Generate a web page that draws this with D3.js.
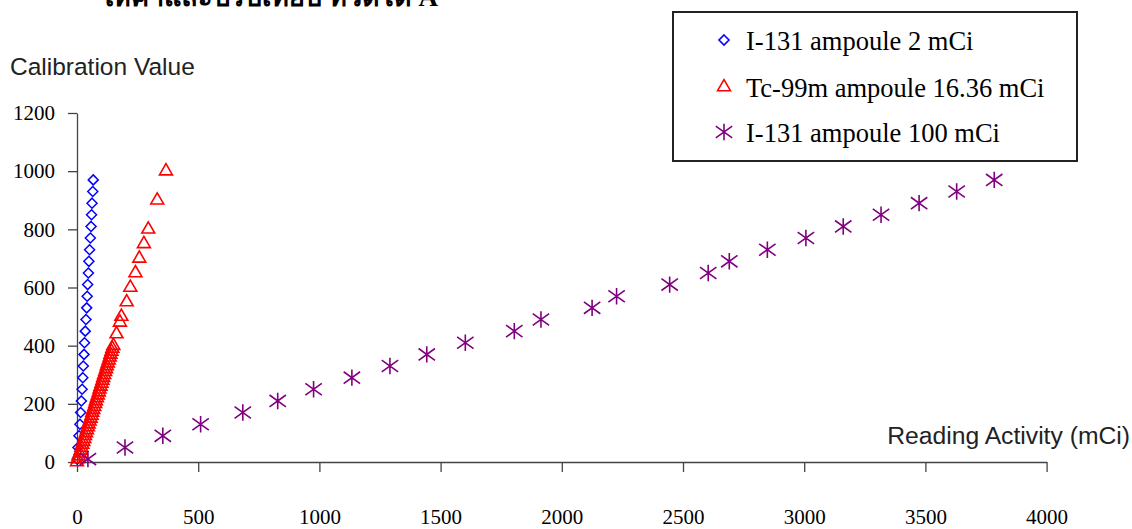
<!DOCTYPE html>
<html>
<head>
<meta charset="utf-8">
<script src="https://cdn.jsdelivr.net/npm/d3@7"></script>
<style>
  html, body { margin: 0; padding: 0; background: #fff; }
  svg { display: block; }
</style>
</head>
<body>
<svg id="chart" width="1132" height="529"></svg>
<script>
// ---------- data ----------
const seriesNames = ["I-131 ampoule 2 mCi", "Tc-99m ampoule 16.36 mCi", "I-131 ampoule 100 mCi"];
const xTicks = [0, 500, 1000, 1500, 2000, 2500, 3000, 3500, 4000];
const yTicks = [0, 200, 400, 600, 800, 1000, 1200];

// I-131 ampoule 2 mCi
const i131smallCal = [10, 50, 90, 130, 170, 210, 250, 290, 330, 370, 410, 450, 490, 530, 570, 610, 650, 690, 730, 770, 810, 850, 890, 930, 970];
const i131smallRead = [1, 4, 8, 12, 15, 18, 21, 24, 26, 29, 31, 34, 37, 40, 42, 44, 47, 49, 52, 55, 58, 60, 62, 65, 67];

// Tc-99m ampoule 16.36 mCi
const tcCal = [0, 10, 20, 30, 40, 50, 60, 70, 80, 90, 100, 110, 120, 130, 140, 150, 160, 170, 180, 190, 200,
  210, 220, 230, 240, 250, 260, 270, 280, 290, 300, 310, 320, 330, 340, 350, 360, 370, 380, 390, 400,
  440, 480, 500, 550, 600, 650, 700, 750, 800, 900, 1000];
const tcRead = [0, 3, 7, 11, 15, 18, 22, 26, 30, 33, 37, 41, 45, 48, 52, 56, 60, 63, 67, 71, 75,
  78, 82, 86, 90, 93, 97, 101, 105, 108, 112, 116, 120, 123, 127, 131, 135, 138, 142, 146, 150,
  163, 177, 183, 205, 220, 241, 257, 276, 294, 331, 367];

// I-131 ampoule 100 mCi
const i131bigCal = [10, 50, 90, 130, 170, 210, 250, 290, 330, 370, 410, 450, 490, 530, 570, 610, 650, 690, 730, 770, 810, 850, 890, 930, 970];
const i131bigRead = [45, 198, 354, 510, 684, 828, 976, 1134, 1291, 1443, 1602, 1804, 1914, 2125, 2226, 2445, 2604, 2691, 2848, 3007, 3161, 3317, 3474, 3629, 3784];

const colors = ["#0000ff", "#ff0000", "#800080"];

// ---------- layout ----------
const svg = d3.select("#chart");
const x = d3.scaleLinear().domain([0, 4000]).range([77, 1046.6]);
const y = d3.scaleLinear().domain([0, 1200]).range([462, 113]);

// custom symbols
const diamondSym = { draw(c, s) { const r = Math.sqrt(s) / 2; c.moveTo(0, -r); c.lineTo(r, 0); c.lineTo(0, r); c.lineTo(-r, 0); c.closePath(); } };
const starSym = { draw(c, s) { const r = Math.sqrt(s) / 2; c.moveTo(0, -r); c.lineTo(0, r); c.moveTo(-r, -r * 0.72); c.lineTo(r, r * 0.72); c.moveTo(-r, r * 0.72); c.lineTo(r, -r * 0.72); } };

const diamondPath = d3.symbol().type(diamondSym).size(100)();
const triPath = d3.symbol().type(d3.symbolTriangle).size(72)();
const starPath = d3.symbol().type(starSym).size(270)();

// title (cut off at top)
svg.append("text")
  .attr("x", 100).attr("y", 6)
  .attr("font-family", "'Liberation Serif', 'Noto Sans', serif")
  .attr("font-weight", "bold")
  .attr("font-size", 27)
  .attr("fill", "#000")
  .text("ให้ค่าและปรับเทียบ ที่วัดได้ A");

// axes
const yAxis = d3.axisLeft(y).tickValues(yTicks).tickFormat(d3.format("d")).tickSize(9).tickSizeOuter(0).tickPadding(13);
const xAxis = d3.axisBottom(x).tickValues(xTicks).tickFormat(d3.format("d")).tickSize(10).tickSizeOuter(0).tickPadding(37);

const gy = svg.append("g").attr("transform", "translate(77,0)").call(yAxis);
const gx = svg.append("g").attr("transform", "translate(0,462)").call(xAxis);
[gx, gy].forEach(g => {
  g.selectAll("path, line").attr("stroke", "#444").attr("stroke-width", 1.3);
  g.selectAll("text")
    .attr("font-family", "'Liberation Serif', 'Times New Roman', serif")
    .attr("font-size", 21)
    .attr("fill", "#000");
});

// axis titles
svg.append("text")
  .attr("x", 10).attr("y", 75)
  .attr("font-family", "'Liberation Sans', Arial, sans-serif")
  .attr("font-size", 24.5)
  .attr("fill", "#222")
  .text("Calibration Value");
svg.append("text")
  .attr("x", 1130).attr("y", 444)
  .attr("text-anchor", "end")
  .attr("font-family", "'Liberation Sans', Arial, sans-serif")
  .attr("font-size", 24.7)
  .attr("fill", "#222")
  .text("Reading Activity (mCi)");

// series
const blue = i131smallCal.map((c, i) => ({ x: i131smallRead[i], y: c }));
const red = tcCal.map((c, i) => ({ x: tcRead[i], y: c }));
const purple = i131bigCal.map((c, i) => ({ x: i131bigRead[i], y: c }));

svg.append("g").selectAll("path").data(blue).join("path")
  .attr("d", diamondPath)
  .attr("transform", d => `translate(${x(d.x)},${y(d.y)})`)
  .attr("fill", "none").attr("stroke", colors[0]).attr("stroke-width", 1.5);

svg.append("g").selectAll("path").data(red).join("path")
  .attr("d", triPath)
  .attr("transform", d => `translate(${x(d.x)},${y(d.y)})`)
  .attr("fill", "none").attr("stroke", colors[1]).attr("stroke-width", 1.6);

svg.append("g").selectAll("path").data(purple).join("path")
  .attr("d", starPath)
  .attr("transform", d => `translate(${x(d.x)},${y(d.y)})`)
  .attr("fill", "none").attr("stroke", colors[2]).attr("stroke-width", 1.6);

// legend
const lg = svg.append("g");
lg.append("rect").attr("x", 673).attr("y", 12).attr("width", 404).attr("height", 149)
  .attr("fill", "#fff").attr("stroke", "#222").attr("stroke-width", 2);
const legendPaths = [diamondPath, triPath, starPath];
const legendY = [40, 87, 132];
const textY = [50, 97, 142];
seriesNames.forEach((name, i) => {
  lg.append("path").attr("d", legendPaths[i])
    .attr("transform", `translate(${724},${legendY[i]})`)
    .attr("fill", "none").attr("stroke", colors[i]).attr("stroke-width", 1.6);
  lg.append("text").attr("x", 746).attr("y", textY[i])
    .attr("font-family", "'Liberation Serif', 'Times New Roman', serif")
    .attr("font-size", 26.5)
    .attr("fill", "#000")
    .text(name);
});
</script>
</body>
</html>
